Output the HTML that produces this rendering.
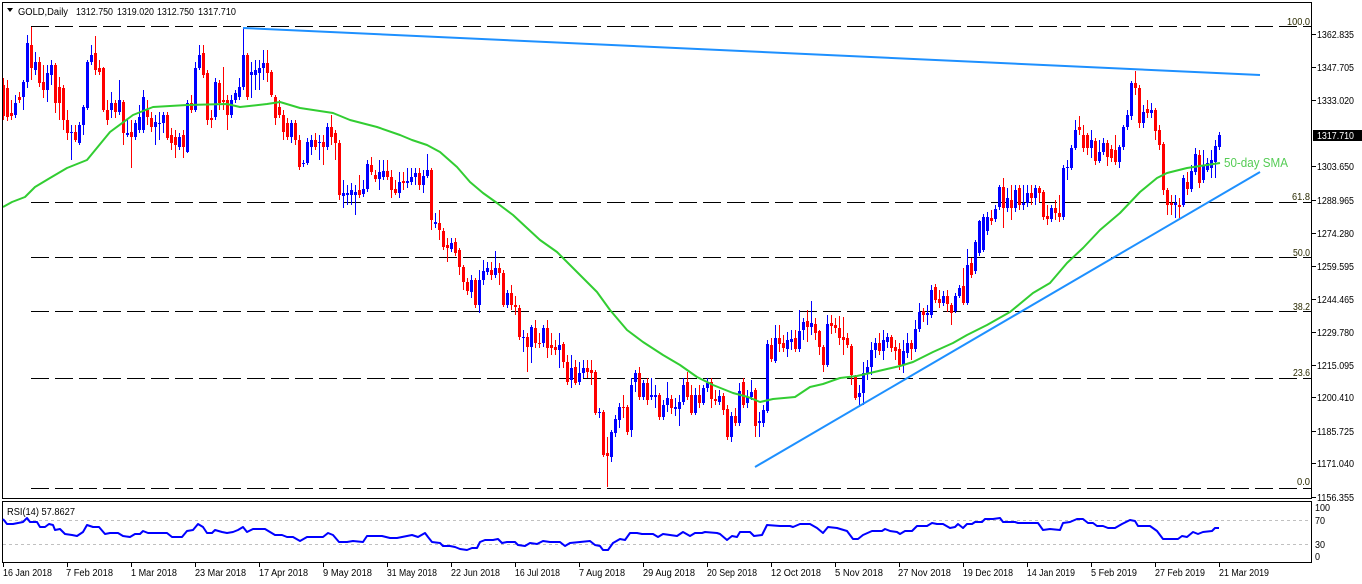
<!DOCTYPE html>
<html><head><meta charset="utf-8"><style>
html,body{margin:0;padding:0;background:#fff;}
svg{display:block;}
text{font-family:"Liberation Sans",sans-serif;}
</style></head><body>
<svg width="1362" height="584" viewBox="0 0 1362 584" xmlns="http://www.w3.org/2000/svg">
<rect width="1362" height="584" fill="#fff"/>
<!-- fib lines -->
<g stroke="#000" stroke-width="1" stroke-dasharray="18 6" fill="none">
<path d="M31 26.5H1311M31 202.5H1311M31 257.5H1311M31 311.5H1311M31 378.5H1311M31 488.5H1311"/>
</g>
<!-- candles -->
<path fill="none" stroke="#ff0000" stroke-width="1" d="M3.5 78V120M7.5 80V121M11.5 100V120M19.5 92V103M31.5 27V80M39.5 57V87M43.5 65V98M55.5 63V113M59.5 77V120M63.5 85V130M67.5 110V140M75.5 125V142M95.5 36V75M99.5 60V75M103.5 67V112M107.5 100V125M115.5 100V118M123.5 100V145M131.5 120V168M147.5 100V125M151.5 112V132M167.5 112V140M171.5 128V150M175.5 130V158M183.5 130V158M191.5 95V113M203.5 45V78M207.5 70V125M211.5 110V128M219.5 80V110M223.5 67V110M227.5 95V130M247.5 53V100M267.5 50V82M271.5 70V97M275.5 95V125M279.5 100V118M283.5 110V140M287.5 118V140M295.5 120V145M299.5 135V170M315.5 133V150M323.5 135V165M331.5 115V145M335.5 130V160M339.5 140V200M359.5 175V198M371.5 157V175M375.5 170V182M387.5 160V180M391.5 170V198M395.5 180V195M403.5 172V190M419.5 168V190M431.5 168V230M439.5 210V240M443.5 228V250M447.5 238V262M455.5 238V256M459.5 248V275M463.5 265V290M467.5 278V295M475.5 278V308M491.5 262V280M499.5 263V285M503.5 270V307M511.5 285V310M515.5 296V315M519.5 305V340M527.5 333V372M535.5 320V348M539.5 333V348M547.5 320V358M551.5 333V355M555.5 340V355M563.5 342V368M567.5 355V385M575.5 360V385M587.5 360V378M591.5 360V385M595.5 370V415M603.5 410V457M607.5 437V487M623.5 395V418M627.5 405V435M639.5 367V400M647.5 378V405M659.5 393V420M671.5 395V414M687.5 372V400M691.5 385V415M699.5 385V408M711.5 378V408M715.5 390V405M723.5 393V415M727.5 405V440M735.5 408V426M743.5 378V408M755.5 388V437M771.5 338V362M779.5 325V352M783.5 335V352M795.5 330V352M807.5 310V342M815.5 318V340M819.5 330V355M823.5 345V372M831.5 315V334M835.5 318V333M839.5 316V345M843.5 317V355M847.5 333V348M851.5 344V385M855.5 375V400M879.5 333V355M891.5 335V352M895.5 340V360M899.5 343V370M911.5 340V360M923.5 308V322M935.5 284V303M939.5 290V308M947.5 290V312M951.5 303V325M963.5 268V305M971.5 258V278M991.5 210V225M1003.5 178V228M1011.5 185V220M1019.5 185V210M1031.5 185V205M1039.5 186V202M1043.5 190V220M1047.5 205V225M1055.5 200V220M1059.5 195V222M1079.5 116V135M1083.5 125V152M1087.5 133V155M1095.5 138V165M1107.5 140V166M1111.5 145V162M1115.5 135V165M1135.5 71V95M1139.5 85V128M1147.5 100V118M1155.5 108V140M1159.5 125V150M1163.5 142V195M1167.5 188V215M1171.5 195V215M1179.5 198V218M1187.5 172V195M1199.5 150V188"/>
<path fill="none" stroke="#ff0000" stroke-width="3" d="M3.5 85V116M7.5 88V117M11.5 113V116M19.5 97V100M31.5 45V68M39.5 62V83M43.5 82V90M55.5 65V103M59.5 87V103M63.5 88V120M67.5 120V133M75.5 132V140M95.5 53V70M99.5 68V72M103.5 68V110M107.5 110V120M115.5 103V112M123.5 102V133M131.5 132V137M147.5 110V117M151.5 118V127M167.5 115V138M171.5 135V143M175.5 137V145M183.5 135V147M191.5 103V110M203.5 53V75M207.5 73V120M211.5 118V120M219.5 83V103M223.5 100V102M227.5 100V115M247.5 55V97M267.5 63V73M271.5 72V95M275.5 97V118M279.5 107V115M283.5 115V132M287.5 123V137M295.5 123V140M299.5 140V167M315.5 140V147M323.5 142V147M331.5 127V137M335.5 133V143M339.5 143V195M359.5 190V195M371.5 165V172M375.5 175V179M387.5 171V177M391.5 177V190M395.5 189V193M403.5 181V183M419.5 173V185M431.5 170V220M439.5 223V230M443.5 231V247M447.5 245V248M455.5 242V253M459.5 250V267M463.5 267V282M467.5 282V291M475.5 280V305M491.5 270V275M499.5 268V273M503.5 273V305M511.5 293V305M515.5 305V307M519.5 308V337M527.5 337V347M535.5 328V343M539.5 343V344M547.5 328V348M551.5 345V348M555.5 347V350M563.5 344V362M567.5 362V382M575.5 367V383M587.5 368V372M591.5 370V373M595.5 372V413M603.5 412V455M607.5 453V456M623.5 407V408M627.5 407V432M639.5 373V397M647.5 383V400M659.5 395V417M671.5 399V408M687.5 382V397M691.5 395V413M699.5 395V403M711.5 382V399M715.5 399V401M723.5 396V410M727.5 409V437M735.5 416V423M743.5 382V405M755.5 390V426M771.5 345V359M779.5 338V344M783.5 343V348M795.5 338V349M807.5 321V327M815.5 324V333M819.5 331V347M823.5 347V365M831.5 323V326M835.5 325V328M839.5 328V338M843.5 337V340M847.5 338V345M851.5 346V375M855.5 377V398M879.5 343V351M891.5 337V348M895.5 347V351M899.5 349V365M911.5 343V349M923.5 311V315M935.5 287V300M939.5 299V303M947.5 296V304M951.5 305V313M963.5 286V303M971.5 263V275M991.5 218V221M1003.5 187V208M1011.5 200V208M1019.5 188V205M1031.5 193V198M1039.5 188V193M1043.5 192V217M1047.5 216V219M1055.5 208V213M1059.5 213V217M1079.5 127V130M1083.5 135V148M1087.5 135V148M1095.5 141V161M1107.5 143V157M1111.5 149V158M1115.5 150V162M1135.5 83V88M1139.5 88V123M1147.5 109V113M1155.5 110V131M1159.5 130V145M1163.5 144V190M1167.5 190V205M1171.5 203V205M1179.5 205V207M1187.5 182V189M1199.5 155V183"/>
<path fill="none" stroke="#0000ff" stroke-width="1" d="M15.5 95V118M23.5 80V110M27.5 35V88M35.5 52V75M47.5 65V102M51.5 60V85M71.5 125V160M79.5 122V145M83.5 105V135M87.5 60V110M91.5 45V65M111.5 92V118M119.5 80V115M127.5 120V137M135.5 120V140M139.5 105V133M143.5 90V133M155.5 115V145M159.5 112V140M163.5 112V133M179.5 133V150M187.5 100V153M195.5 62V112M199.5 45V70M215.5 78V120M231.5 95V118M235.5 90V103M239.5 78V100M243.5 28V90M251.5 62V98M255.5 60V90M259.5 60V90M263.5 50V80M291.5 120V143M303.5 160V167M307.5 138V165M311.5 135V155M319.5 135V160M327.5 123V150M343.5 180V208M347.5 185V205M351.5 183V205M355.5 185V215M363.5 180V197M367.5 160V192M379.5 160V190M383.5 160V180M399.5 172V198M407.5 168V188M411.5 168V185M415.5 168V185M423.5 170V193M427.5 154V178M435.5 213V228M451.5 238V252M471.5 275V298M479.5 270V313M483.5 260V285M487.5 262V275M495.5 251V278M507.5 290V308M523.5 330V352M531.5 325V363M543.5 325V347M559.5 333V368M571.5 355V388M579.5 362V385M583.5 360V378M599.5 408V418M611.5 430V462M615.5 415V437M619.5 403V428M631.5 378V437M635.5 370V392M643.5 380V400M651.5 378V400M655.5 385V408M663.5 400V420M667.5 382V412M675.5 398V416M679.5 395V426M683.5 378V405M695.5 388V415M703.5 385V405M707.5 378V392M719.5 390V405M731.5 412V442M739.5 383V426M747.5 390V408M751.5 380V400M759.5 412V437M763.5 405V427M767.5 340V413M775.5 325V363M787.5 332V357M791.5 330V350M799.5 310V352M803.5 318V340M811.5 301V335M827.5 315V367M859.5 385V407M863.5 362V405M867.5 360V380M871.5 342V375M875.5 338V358M883.5 330V360M887.5 333V348M903.5 340V373M907.5 333V358M915.5 320V352M919.5 303V332M927.5 305V325M931.5 285V318M943.5 291V306M955.5 293V313M959.5 285V298M967.5 249V305M975.5 240V274M979.5 220V256M983.5 214V252M987.5 212V235M995.5 205V222M999.5 185V210M1007.5 188V212M1015.5 185V212M1023.5 185V210M1027.5 185V207M1035.5 185V205M1051.5 205V222M1063.5 165V220M1067.5 160V180M1071.5 145V170M1075.5 120V150M1091.5 130V158M1099.5 140V163M1103.5 138V155M1119.5 145V168M1123.5 125V150M1127.5 110V130M1131.5 81V120M1143.5 105V128M1151.5 103V118M1175.5 195V218M1183.5 175V207M1191.5 165V192M1195.5 148V175M1203.5 150V183M1207.5 158V172M1211.5 150V178M1215.5 140V178M1219.5 132V150"/>
<path fill="none" stroke="#0000ff" stroke-width="3" d="M15.5 103V115M23.5 82V97M27.5 43V82M35.5 62V70M47.5 73V90M51.5 65V75M71.5 132V133M79.5 125V143M83.5 107V125M87.5 62V108M91.5 55V62M111.5 103V110M119.5 100V112M127.5 133V135M135.5 123V137M139.5 117V130M143.5 97V130M155.5 122V127M159.5 123V124M163.5 115V123M179.5 137V147M187.5 103V152M195.5 68V110M199.5 55V68M215.5 82V117M231.5 100V115M235.5 93V100M239.5 87V97M243.5 55V87M251.5 72V75M255.5 70V75M259.5 68V73M263.5 63V68M291.5 123V137M303.5 163V164M307.5 142V163M311.5 140V147M319.5 142V143M327.5 127V147M343.5 193V196M347.5 193V195M351.5 190V195M355.5 192V195M363.5 189V194M367.5 164V189M379.5 172V179M383.5 171V177M399.5 182V193M407.5 181V183M411.5 177V182M415.5 173V177M423.5 176V185M427.5 170V176M435.5 222V224M451.5 243V249M471.5 280V292M479.5 280V305M483.5 271V280M487.5 268V272M495.5 268V275M507.5 293V305M523.5 337V338M531.5 327V347M543.5 328V343M559.5 345V350M571.5 368V380M579.5 373V382M583.5 368V373M599.5 412V413M611.5 432V457M615.5 419V433M619.5 407V420M631.5 385V430M635.5 373V382M643.5 383V397M651.5 395V397M655.5 395V397M663.5 405V417M667.5 398V405M675.5 407V409M679.5 402V409M683.5 385V402M695.5 395V413M703.5 388V403M707.5 383V388M719.5 396V402M731.5 416V437M739.5 391V423M747.5 397V403M751.5 392V397M759.5 421V423M763.5 410V423M767.5 344V411M775.5 338V361M787.5 340V349M791.5 339V342M799.5 331V349M803.5 322V330M811.5 323V327M827.5 324V365M859.5 393V397M863.5 373V393M867.5 367V373M871.5 350V367M875.5 343V350M883.5 340V351M887.5 337V342M903.5 351V365M907.5 343V353M915.5 329V349M919.5 312V329M927.5 313V315M931.5 290V315M943.5 296V303M955.5 296V311M959.5 288V296M967.5 265V303M975.5 242V271M979.5 221V253M983.5 217V250M987.5 217V231M995.5 209V219M999.5 187V207M1007.5 198V208M1015.5 190V208M1023.5 203V205M1027.5 193V203M1035.5 188V198M1051.5 208V219M1063.5 168V217M1067.5 167V168M1071.5 148V168M1075.5 130V148M1091.5 140V148M1099.5 152V161M1103.5 143V152M1119.5 147V162M1123.5 127V147M1127.5 115V127M1131.5 83V116M1143.5 112V123M1151.5 110V113M1175.5 203V205M1183.5 178V205M1191.5 171V189M1195.5 154V172M1203.5 165V180M1207.5 163V170M1211.5 160V168M1215.5 146V162M1219.5 135V147"/>
<!-- 50-day SMA -->
<polyline fill="none" stroke="#32cd32" stroke-width="2" stroke-linejoin="round" points="3,207 12,202 25,197 35,187 50,178 67,168 87,160 110,132 133,115 153,107 187,105 227,104 240,107 267,104 280,102 300,108 333,113 350,120 377,127 400,135 412,140 427,145 440,152 457,167 470,182 483,193 497,203 513,215 527,228 540,240 557,252 570,265 583,278 597,292 610,310 627,330 643,342 663,355 680,365 697,377 713,385 733,393 748,397 760,402 773,399 795,397 810,387 823,384 840,378 857,376 870,373 887,369 900,366 913,362 933,352 953,343 967,335 987,325 1010,312 1033,293 1050,283 1067,263 1083,248 1100,230 1120,213 1140,192 1157,178 1167,173 1187,168 1200,166 1220,163"/>
<!-- trend lines -->
<line x1="243" y1="28" x2="1260" y2="75" stroke="#1e90ff" stroke-width="2"/>
<line x1="755" y1="467" x2="1260" y2="172" stroke="#1e90ff" stroke-width="2"/>
<text x="1224" y="167" font-size="13" fill="#55cc55" textLength="64" lengthAdjust="spacingAndGlyphs">50-day SMA</text>
<!-- fib labels -->
<g font-size="10" fill="#2a2a00">
<text x="1287" y="25" textLength="23" lengthAdjust="spacingAndGlyphs">100.0</text>
<text x="1292" y="200" textLength="18" lengthAdjust="spacingAndGlyphs">61.8</text>
<text x="1293" y="256" textLength="17" lengthAdjust="spacingAndGlyphs">50.0</text>
<text x="1293" y="310" textLength="17" lengthAdjust="spacingAndGlyphs">38.2</text>
<text x="1293" y="376" textLength="17" lengthAdjust="spacingAndGlyphs">23.6</text>
<text x="1297" y="485" textLength="13" lengthAdjust="spacingAndGlyphs">0.0</text>
</g>
<!-- frames -->
<g fill="none" stroke="#000" stroke-width="1">
<rect x="2.5" y="2.5" width="1309" height="496"/>
<rect x="2.5" y="501.5" width="1309" height="61"/>
</g>
<!-- header -->
<polygon points="7,8 13,8 10,12" fill="#000"/>
<g font-size="10" fill="#000">
<text x="18" y="15" textLength="50" lengthAdjust="spacingAndGlyphs">GOLD,Daily</text>
<text x="76" y="15" textLength="37" lengthAdjust="spacingAndGlyphs">1312.750</text>
<text x="117" y="15" textLength="37" lengthAdjust="spacingAndGlyphs">1319.020</text>
<text x="157" y="15" textLength="37" lengthAdjust="spacingAndGlyphs">1312.750</text>
<text x="198" y="15" textLength="38" lengthAdjust="spacingAndGlyphs">1317.710</text>
</g>
<!-- price axis -->
<g stroke="#000" stroke-width="1">
<path d="M1312 34.5H1316M1312 67.5H1316M1312 100.5H1316M1312 166.5H1316M1312 200.5H1316M1312 233.5H1316M1312 266.5H1316M1312 299.5H1316M1312 332.5H1316M1312 365.5H1316M1312 397.5H1316M1312 431.5H1316M1312 463.5H1316M1312 497.5H1316"/>
</g>
<g font-size="10" fill="#000">
<text x="1317" y="38" textLength="37" lengthAdjust="spacingAndGlyphs">1362.835</text>
<text x="1317" y="71" textLength="37" lengthAdjust="spacingAndGlyphs">1347.705</text>
<text x="1317" y="104" textLength="37" lengthAdjust="spacingAndGlyphs">1333.020</text>
<text x="1317" y="170" textLength="37" lengthAdjust="spacingAndGlyphs">1303.650</text>
<text x="1317" y="204" textLength="37" lengthAdjust="spacingAndGlyphs">1288.965</text>
<text x="1317" y="237" textLength="37" lengthAdjust="spacingAndGlyphs">1274.280</text>
<text x="1317" y="270" textLength="37" lengthAdjust="spacingAndGlyphs">1259.595</text>
<text x="1317" y="303" textLength="37" lengthAdjust="spacingAndGlyphs">1244.465</text>
<text x="1317" y="336" textLength="37" lengthAdjust="spacingAndGlyphs">1229.780</text>
<text x="1317" y="369" textLength="37" lengthAdjust="spacingAndGlyphs">1215.095</text>
<text x="1317" y="401" textLength="37" lengthAdjust="spacingAndGlyphs">1200.410</text>
<text x="1317" y="435" textLength="37" lengthAdjust="spacingAndGlyphs">1185.725</text>
<text x="1317" y="467" textLength="37" lengthAdjust="spacingAndGlyphs">1171.040</text>
<text x="1317" y="501" textLength="37" lengthAdjust="spacingAndGlyphs">1156.355</text>
</g>
<rect x="1313" y="130" width="49" height="11" fill="#000"/>
<text x="1317" y="139" font-size="10" fill="#fff" textLength="37" lengthAdjust="spacingAndGlyphs">1317.710</text>
<!-- RSI panel -->
<g stroke="#c0c0c0" stroke-width="1" stroke-dasharray="3 3">
<path d="M3 520.5H1311M3 544.5H1311"/>
</g>
<polyline fill="none" stroke="#0000ff" stroke-width="2" stroke-linejoin="round" points="3,519 7,524 13,524 18,523 23,522 27,518 30,522 37,522 40,527 45,527 49,524 53,525 55,530 60,529 65,534 72,535 77,536 83,532 87,525 93,527 99,527 105,534 110,533 118,533 123,536 130,537 135,534 140,534 143,531 148,533 167,533 172,537 182,537 187,531 193,530 198,524 203,527 207,533 212,533 215,530 222,532 227,533 233,532 238,530 243,527 247,532 253,529 265,529 270,532 275,535 282,535 287,537 293,537 300,541 307,537 323,537 328,533 333,535 339,542 347,542 353,541 363,542 367,536 382,536 390,538 397,538 402,537 412,535 418,537 425,533 428,537 432,542 440,543 443,546 450,546 455,547 460,549 467,550 472,548 477,548 480,542 485,540 493,540 498,539 502,543 507,542 515,542 518,545 525,546 530,543 537,544 543,541 550,542 560,542 565,546 570,543 580,542 590,541 595,545 600,546 603,550 608,550 613,543 620,539 625,540 630,533 637,533 642,534 653,534 658,537 663,534 677,536 683,532 690,536 695,533 702,533 705,532 717,533 720,534 727,540 732,536 737,537 740,532 750,532 754,536 762,535 767,525 780,526 790,526 793,527 800,524 810,524 817,528 823,533 828,527 837,528 847,531 853,539 858,539 863,535 872,531 882,531 885,529 890,531 897,532 900,534 905,531 912,531 917,526 927,526 932,523 937,524 943,524 950,528 955,527 958,524 963,528 967,524 972,524 975,522 982,522 985,519 993,519 1000,518 1003,522 1010,522 1015,522 1018,523 1038,523 1043,530 1050,529 1060,530 1063,523 1070,522 1077,519 1083,519 1088,523 1093,523 1097,526 1103,526 1108,528 1115,528 1122,524 1130,520 1135,521 1138,526 1150,526 1157,531 1163,539 1178,539 1182,536 1187,537 1193,532 1198,534 1203,532 1212,531 1215,528 1219,528"/>
<text x="7" y="515" font-size="10" fill="#000" textLength="68" lengthAdjust="spacingAndGlyphs">RSI(14) 57.8627</text>
<g font-size="10" fill="#000">
<text x="1315" y="511" textLength="15" lengthAdjust="spacingAndGlyphs">100</text>
<text x="1315" y="524" textLength="10" lengthAdjust="spacingAndGlyphs">70</text>
<text x="1315" y="548" textLength="10" lengthAdjust="spacingAndGlyphs">30</text>
<text x="1315" y="560" textLength="5" lengthAdjust="spacingAndGlyphs">0</text>
</g>
<!-- date axis -->
<path stroke="#000" stroke-width="1" d="M3.5 563V567M67.5 563V567M131.5 563V567M195.5 563V567M259.5 563V567M323.5 563V567M387.5 563V567M451.5 563V567M515.5 563V567M579.5 563V567M643.5 563V567M707.5 563V567M771.5 563V567M835.5 563V567M899.5 563V567M963.5 563V567M1027.5 563V567M1091.5 563V567M1155.5 563V567M1219.5 563V567"/>
<g font-size="10" fill="#000">
<text x="3" y="576" textLength="49" lengthAdjust="spacingAndGlyphs">16 Jan 2018</text>
<text x="66" y="576" textLength="47" lengthAdjust="spacingAndGlyphs">7 Feb 2018</text>
<text x="131" y="576" textLength="46" lengthAdjust="spacingAndGlyphs">1 Mar 2018</text>
<text x="195" y="576" textLength="51" lengthAdjust="spacingAndGlyphs">23 Mar 2018</text>
<text x="259" y="576" textLength="49" lengthAdjust="spacingAndGlyphs">17 Apr 2018</text>
<text x="323" y="576" textLength="49" lengthAdjust="spacingAndGlyphs">9 May 2018</text>
<text x="387" y="576" textLength="50" lengthAdjust="spacingAndGlyphs">31 May 2018</text>
<text x="451" y="576" textLength="49" lengthAdjust="spacingAndGlyphs">22 Jun 2018</text>
<text x="515" y="576" textLength="45" lengthAdjust="spacingAndGlyphs">16 Jul 2018</text>
<text x="579" y="576" textLength="46" lengthAdjust="spacingAndGlyphs">7 Aug 2018</text>
<text x="643" y="576" textLength="52" lengthAdjust="spacingAndGlyphs">29 Aug 2018</text>
<text x="707" y="576" textLength="50" lengthAdjust="spacingAndGlyphs">20 Sep 2018</text>
<text x="771" y="576" textLength="50" lengthAdjust="spacingAndGlyphs">12 Oct 2018</text>
<text x="835" y="576" textLength="48" lengthAdjust="spacingAndGlyphs">5 Nov 2018</text>
<text x="898" y="576" textLength="53" lengthAdjust="spacingAndGlyphs">27 Nov 2018</text>
<text x="963" y="576" textLength="50" lengthAdjust="spacingAndGlyphs">19 Dec 2018</text>
<text x="1027" y="576" textLength="48" lengthAdjust="spacingAndGlyphs">14 Jan 2019</text>
<text x="1091" y="576" textLength="46" lengthAdjust="spacingAndGlyphs">5 Feb 2019</text>
<text x="1155" y="576" textLength="50" lengthAdjust="spacingAndGlyphs">27 Feb 2019</text>
<text x="1219" y="576" textLength="50" lengthAdjust="spacingAndGlyphs">21 Mar 2019</text>
</g>
</svg>
</body></html>
